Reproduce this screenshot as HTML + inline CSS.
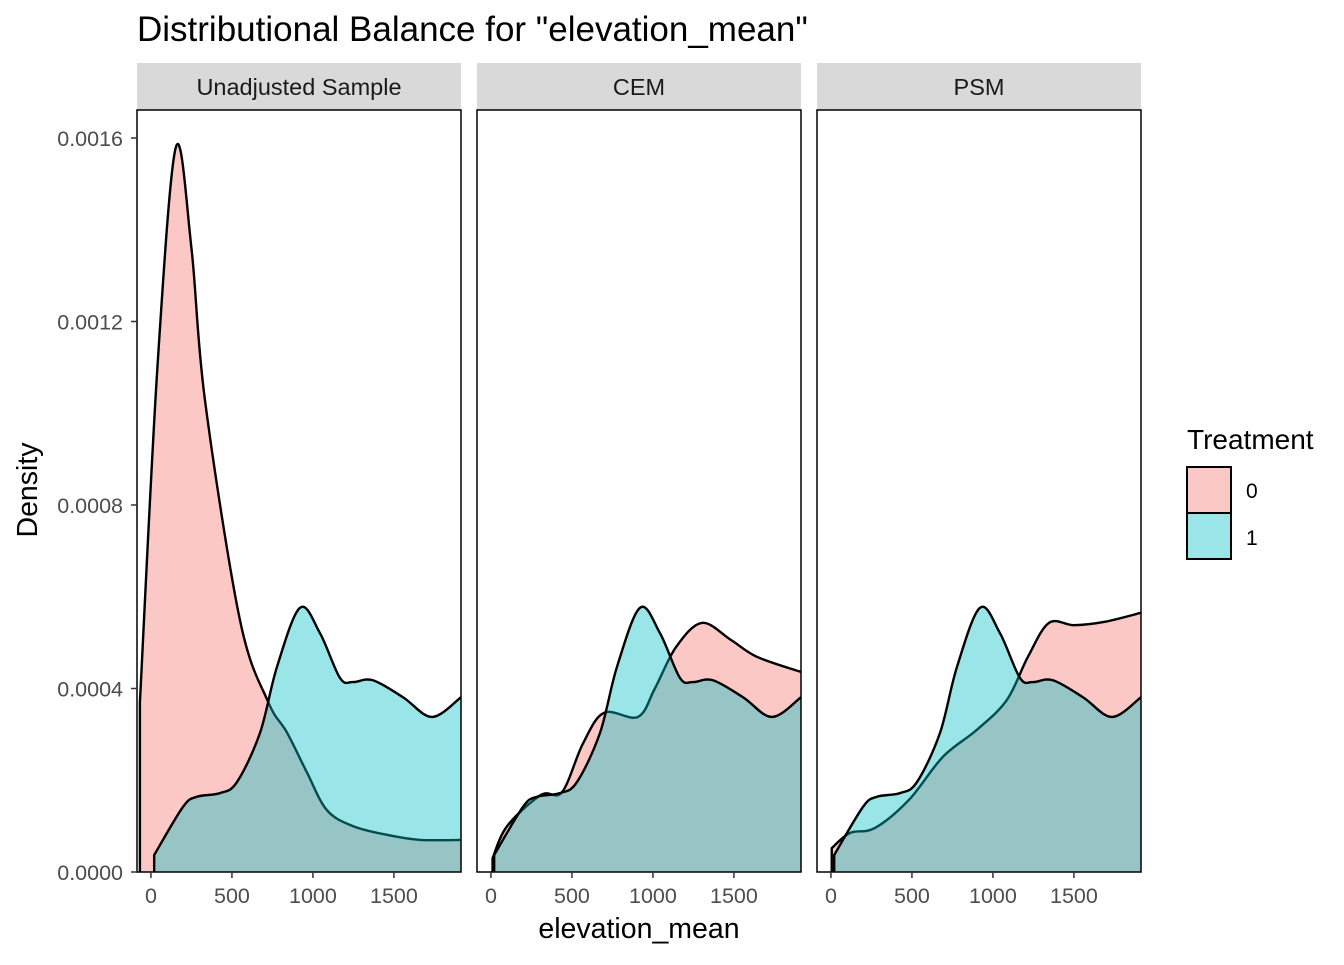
<!DOCTYPE html>
<html><head><meta charset="utf-8"><style>
body{margin:0;background:#fff;font-family:"Liberation Sans",sans-serif}
</style></head><body>
<svg id="chart" width="1344" height="960" xmlns="http://www.w3.org/2000/svg">
<text x="137" y="41" font-size="35" fill="#000">Distributional Balance for "elevation_mean"</text>
<g id="panels"></g>
<g id="axes"></g>
<text x="639" y="938" font-size="28.5" text-anchor="middle">elevation_mean</text>
<text transform="translate(37,490) rotate(-90)" font-size="28.5" text-anchor="middle">Density</text>
<g>
<text x="1187" y="449" font-size="28">Treatment</text>
<rect x="1187" y="467" width="44" height="46" fill="#F8766D" fill-opacity="0.4" stroke="#000" stroke-width="2"/>
<rect x="1187" y="513" width="44" height="46" fill="#00BFC4" fill-opacity="0.4" stroke="#000" stroke-width="2"/>
<text x="1246" y="498" font-size="21">0</text>
<text x="1246" y="545" font-size="21">1</text>
</g>
</svg>
<script>
const panelNames = ["Unadjusted Sample", "CEM", "PSM"];
const xTicks = [0, 500, 1000, 1500];
const yTicks = [0, 0.0004, 0.0008, 0.0012, 0.0016];
const yTickLabels = ["0.0000", "0.0004", "0.0008", "0.0012", "0.0016"];
const teal1X = [20, 198, 284, 426, 531, 673, 778, 920, 1043, 1167, 1247, 1370, 1556, 1735, 1914];
const teal1Y = [0.000037, 0.000142, 0.000164, 0.000172, 0.000196, 0.000303, 0.000447, 0.000576, 0.000521, 0.000423, 0.000414, 0.000418, 0.000381, 0.000338, 0.000381];
const pinkUnadjX = [-68, 40, 154, 250, 333, 549, 722, 840, 963, 1086, 1247, 1457, 1660, 1914];
const pinkUnadjY = [0.00037, 0.0011, 0.00158, 0.00136, 0.00103, 0.00055, 0.000372, 0.000304, 0.000217, 0.000135, 0.0001, 0.000081, 0.00007, 0.00007];
const pinkCemX = [10, 100, 309, 439, 568, 698, 907, 1012, 1142, 1302, 1481, 1642, 1914];
const pinkCemY = [0.00003, 0.0001, 0.000168, 0.000174, 0.00028, 0.000347, 0.000338, 0.0004, 0.00049, 0.000543, 0.000506, 0.000469, 0.000436];
const pinkPsmX = [5, 117, 272, 481, 691, 901, 1086, 1216, 1346, 1500, 1685, 1914];
const pinkPsmY = [0.000052, 0.000085, 0.000096, 0.000157, 0.000251, 0.00031, 0.000375, 0.000469, 0.000543, 0.000538, 0.000545, 0.000565];
const pinkSeries = [[pinkUnadjX, pinkUnadjY], [pinkCemX, pinkCemY], [pinkPsmX, pinkPsmY]];

const NS = "http://www.w3.org/2000/svg";
const panelLeft = [137, 477, 817], panelW = 324, plotTop = 110, plotBottom = 872;
const xMin = -86, xMax = 1914;
function xs(p, v) { return panelLeft[p] + (v - xMin) / (xMax - xMin) * panelW; }
function ys(v) { return plotBottom - v / 0.0016 * 734; }
function mk(tag, attrs, parent) { const e = document.createElementNS(NS, tag); for (const k in attrs) e.setAttribute(k, attrs[k]); parent.appendChild(e); return e; }
function smooth(pts) {
  let d = "M" + pts[0][0] + "," + pts[0][1];
  for (let i = 0; i < pts.length - 1; i++) {
    const p0 = pts[Math.max(i - 1, 0)], p1 = pts[i], p2 = pts[i + 1], p3 = pts[Math.min(i + 2, pts.length - 1)];
    const c1 = [p1[0] + (p2[0] - p0[0]) / 6, p1[1] + (p2[1] - p0[1]) / 6];
    const c2 = [p2[0] - (p3[0] - p1[0]) / 6, p2[1] - (p3[1] - p1[1]) / 6];
    d += " C" + c1.join(",") + " " + c2.join(",") + " " + p2.join(",");
  }
  return d;
}
function area(p, X, Y, color, parent, name) {
  const pts = X.map((x, i) => [xs(p, x), ys(Y[i])]);
  const x0 = pts[0][0], x1 = pts[pts.length - 1][0];
  const curve = smooth(pts);
  const a = mk("path", { d: "M" + x0 + "," + plotBottom + " L" + curve.slice(1) + " L" + x1 + "," + plotBottom + "Z", fill: color, "fill-opacity": 0.4, stroke: "none" }, parent);
  
  
  const l = mk("path", { d: "M" + x0 + "," + plotBottom + " L" + curve.slice(1), fill: "none", stroke: "#000", "stroke-width": 2.4 }, parent);
  
  
}
const panels = document.getElementById("panels");
for (let p = 0; p < 3; p++) {
  const g = mk("g", {}, panels);
  
  
  const strip = mk("rect", { x: panelLeft[p], y: 63, width: panelW, height: 47, fill: "#D9D9D9" }, g);
  
  
  const st = mk("text", { x: panelLeft[p] + panelW / 2, y: 95, "font-size": 23.5, "text-anchor": "middle", fill: "#1a1a1a" }, g);
  st.textContent = panelNames[p];
  
  
  const clip = mk("clipPath", { id: "c" + p }, g);
  mk("rect", { x: panelLeft[p], y: plotTop, width: panelW, height: plotBottom - plotTop }, clip);
  const inner = mk("g", { "clip-path": "url(#c" + p + ")" }, g);
  area(p, pinkSeries[p][0], pinkSeries[p][1], "#F8766D", inner, "treatment-0-p" + (p + 1));
  area(p, teal1X, teal1Y, "#00BFC4", inner, "treatment-1-p" + (p + 1));
  const fr = mk("rect", { x: panelLeft[p], y: plotTop, width: panelW, height: plotBottom - plotTop, fill: "none", stroke: "#000", "stroke-width": 1.5 }, g);
  
  
  xTicks.forEach(t => {
    const x = xs(p, t);
    const tk = mk("line", { x1: x, x2: x, y1: plotBottom, y2: plotBottom + 6, stroke: "#333", "stroke-width": 1.5 }, g);
    
    
    const tl = mk("text", { x: x, y: plotBottom + 31, "font-size": 21.5, "text-anchor": "middle", fill: "#4d4d4d" }, g);
    tl.textContent = t;
    
    
  });
}
const axes = document.getElementById("axes");
yTicks.forEach((t, i) => {
  const y = ys(t);
  const tk = mk("line", { x1: 131, x2: 137, y1: y, y2: y, stroke: "#333", "stroke-width": 1.5 }, axes);
  
  
  const tl = mk("text", { x: 123, y: y + 8, "font-size": 21.5, "text-anchor": "end", fill: "#4d4d4d" }, axes);
  tl.textContent = yTickLabels[i];
  
  
});
</script>
</body></html>
